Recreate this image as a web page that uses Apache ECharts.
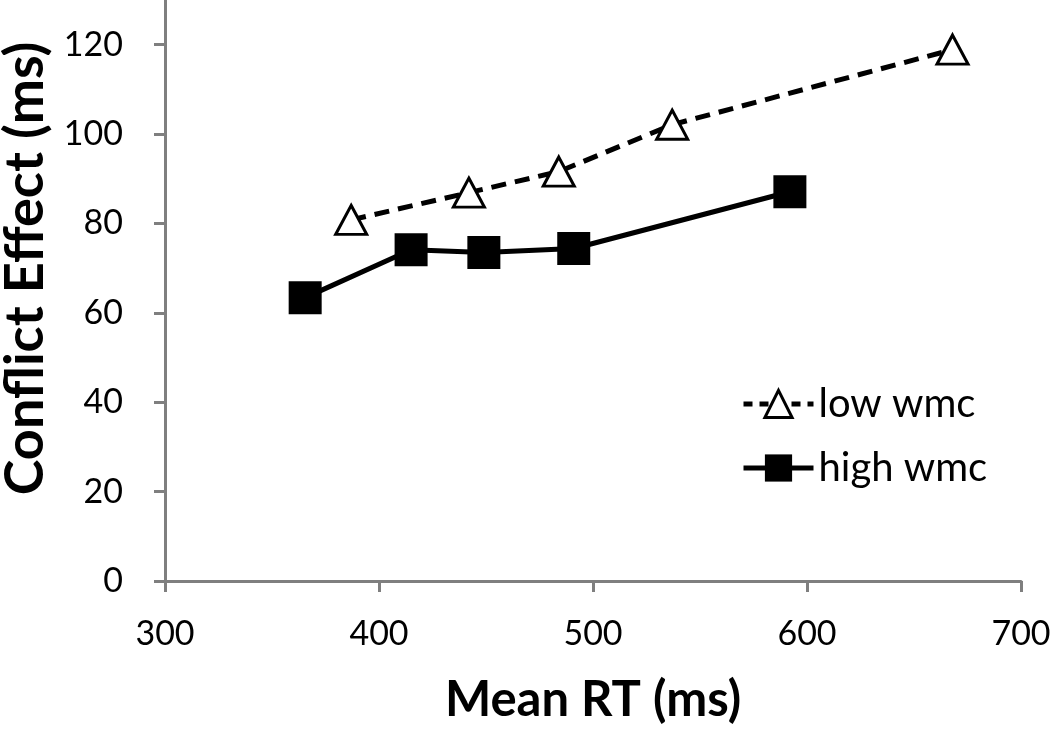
<!DOCTYPE html>
<html><head><meta charset="utf-8">
<script src="https://cdn.jsdelivr.net/npm/echarts@6/dist/echarts.min.js"></script>
<style>html,body{margin:0;padding:0;background:#fff}#c{width:1050px;height:729px}</style>
</head><body><div id="c"></div>
<script>
var lowX = [387, 442, 484, 537, 668];
var lowY = [80.8, 86.9, 91.6, 102.1, 118.9];
var highX = [365.5, 415, 449, 491, 592];
var highY = [63.4, 74.1, 73.5, 74.4, 87.1];
var xTicks = [300, 400, 500, 600, 700];
var yTicks = [0, 20, 40, 60, 80, 100, 120];

function pairs(xs, ys){ return xs.map(function(x,i){ return [x, ys[i]]; }); }

var chart = echarts.init(document.getElementById('c'));
var FONT = 'Lato';
var axisGray = '#7f7f7f';
chart.setOption({
  animation: false,
  textStyle: {fontFamily: FONT},
  grid: {left: 165, right: 29, top: 0, bottom: 148, containLabel: false, outerBoundsMode: 'none'},
  legend: {
    orient: 'vertical', left: 736, top: 379, itemGap: 24,
    itemWidth: 70, itemHeight: 34,
    textStyle: {fontFamily: FONT, fontSize: 40, color: '#000', padding: [0, 0, 0, 0]},
    data: [
      {name: 'low wmc', lineStyle: {width: 5, type: [9, 7], color: '#000'},
        itemStyle: {color: '#fff', borderColor: '#000', borderWidth: 3}},
      {name: 'high wmc', lineStyle: {width: 5, color: '#000'},
        itemStyle: {color: '#000', borderWidth: 0}}
    ]
  },
  xAxis: {
    type: 'value', min: 300, max: 700, interval: 100,
    name: 'Mean RT (ms)', nameLocation: 'middle', nameGap: 95,
    nameTextStyle: {fontFamily: FONT, fontSize: 49, fontWeight: 'bold', color: '#000'},
    axisLine: {show: true, lineStyle: {color: axisGray, width: 3}},
    axisTick: {show: true, length: 11, lineStyle: {color: axisGray, width: 3}},
    axisLabel: {fontFamily: FONT, fontSize: 34, color: '#000', margin: 36,
      customValues: xTicks},
    splitLine: {show: false}
  },
  yAxis: {
    type: 'value', min: 0, max: 130,
    name: 'Conflict Effect (ms)', nameLocation: 'middle', nameGap: 112, nameRotate: 90,
    nameTextStyle: {fontFamily: FONT, fontSize: 54, fontWeight: 'bold', color: '#000',
      padding: [0, 0, 0, 44]},
    axisLine: {show: true, lineStyle: {color: axisGray, width: 3}},
    axisTick: {show: true, length: 11, lineStyle: {color: axisGray, width: 3}, customValues: yTicks},
    axisLabel: {fontFamily: FONT, fontSize: 34, color: '#000', margin: 42, customValues: yTicks},
    splitLine: {show: false}
  },
  series: [
    {
      name: 'low wmc', type: 'line', data: pairs(lowX, lowY),
      symbol: 'triangle', symbolSize: [31, 29],
      lineStyle: {color: '#000', width: 5, type: [15, 9]},
      itemStyle: {color: '#fff', borderColor: '#000', borderWidth: 3},
      z: 3
    },
    {
      name: 'high wmc', type: 'line', data: pairs(highX, highY),
      symbol: 'rect', symbolSize: 33,
      lineStyle: {color: '#000', width: 5},
      itemStyle: {color: '#000', borderColor: '#000', borderWidth: 0},
      z: 2
    }
  ]
});
</script></body></html>
